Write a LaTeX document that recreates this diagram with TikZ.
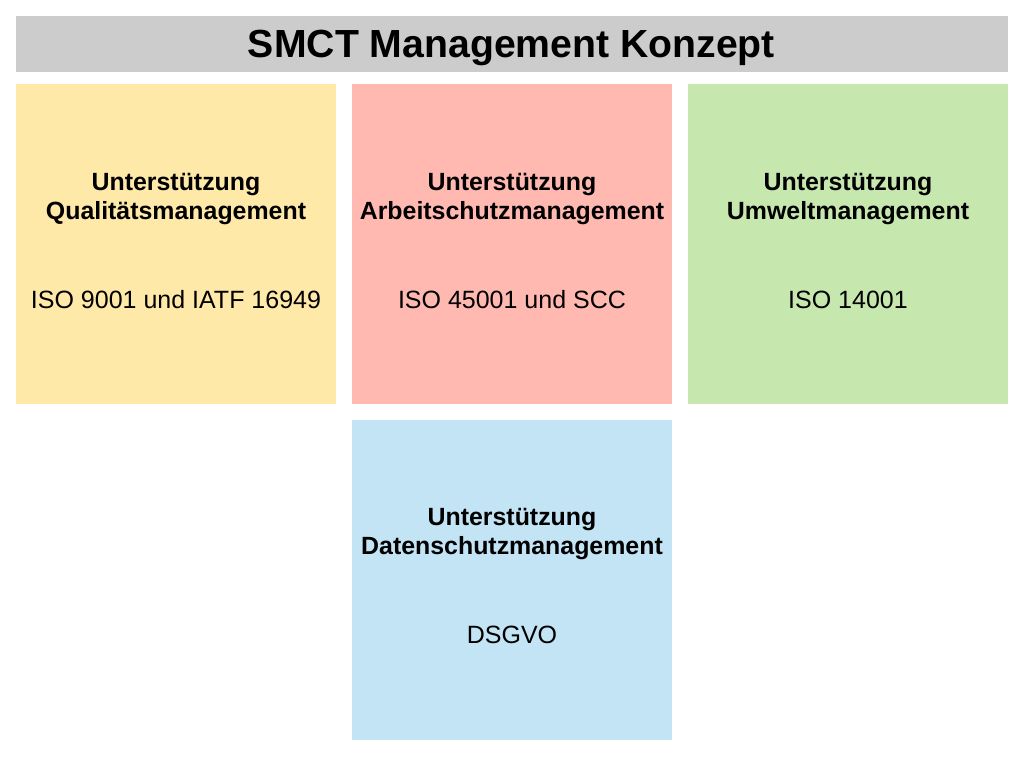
\documentclass[tikz,border=0pt]{standalone}
\usepackage{fontspec}
\setmainfont{Liberation Sans}
\definecolor{titlegray}{HTML}{CCCCCC}
\definecolor{qyellow}{HTML}{FFE9A8}
\definecolor{ared}{HTML}{FFB9B1}
\definecolor{ugreen}{HTML}{C6E7AE}
\definecolor{dblue}{HTML}{C2E4F5}
\tikzset{
  panel/.style={draw=none, minimum width=320pt, minimum height=320pt, inner sep=0pt, outer sep=0pt},
  head/.style={anchor=base, font=\bfseries\fontsize{24.9}{29.5}\selectfont, align=center, inner sep=0pt},
  sub/.style={anchor=base, font=\fontsize{25}{29.5}\selectfont, inner sep=0pt},
}
\begin{document}
\begin{tikzpicture}[x=1pt,y=-1pt]
\useasboundingbox (0,0) rectangle (1024,756);
% title bar
\node[fill=titlegray, minimum width=992pt, minimum height=56pt, inner sep=0pt] (bar) at (512,44) {};
\node[anchor=base, font=\bfseries\fontsize{39.2}{44}\selectfont, inner sep=0pt] (title) at (511.5,57.5) {SMCT Management Konzept};
% panels
\node[panel, fill=qyellow] (q) at (176,244) {};
\node[panel, fill=ared] (a) at (512,244) {};
\node[panel, fill=ugreen] (u) at (848,244) {};
\node[panel, fill=dblue] (d) at (512,579.5) {};
% texts
\node[head] (qh1) at (176,190) {Unterstützung};
\node[head] (qh2) at (176,219.5) {Qualitätsmanagement};
\node[sub] (qs) at (176,308) {ISO 9001 und IATF 16949};
\node[head] (ah1) at (512,190) {Unterstützung};
\node[head] (ah2) at (512,219.5) {Arbeitschutzmanagement};
\node[sub] (as) at (512,308) {ISO 45001 und SCC};
\node[head] (uh1) at (848,190) {Unterstützung};
\node[head] (uh2) at (848,219.5) {Umweltmanagement};
\node[sub] (us) at (848,308) {ISO 14001};
\node[head] (dh1) at (512,525) {Unterstützung};
\node[head] (dh2) at (512,554.5) {Datenschutzmanagement};
\node[sub] (ds) at (512,643) {DSGVO};
\end{tikzpicture}
\end{document}
